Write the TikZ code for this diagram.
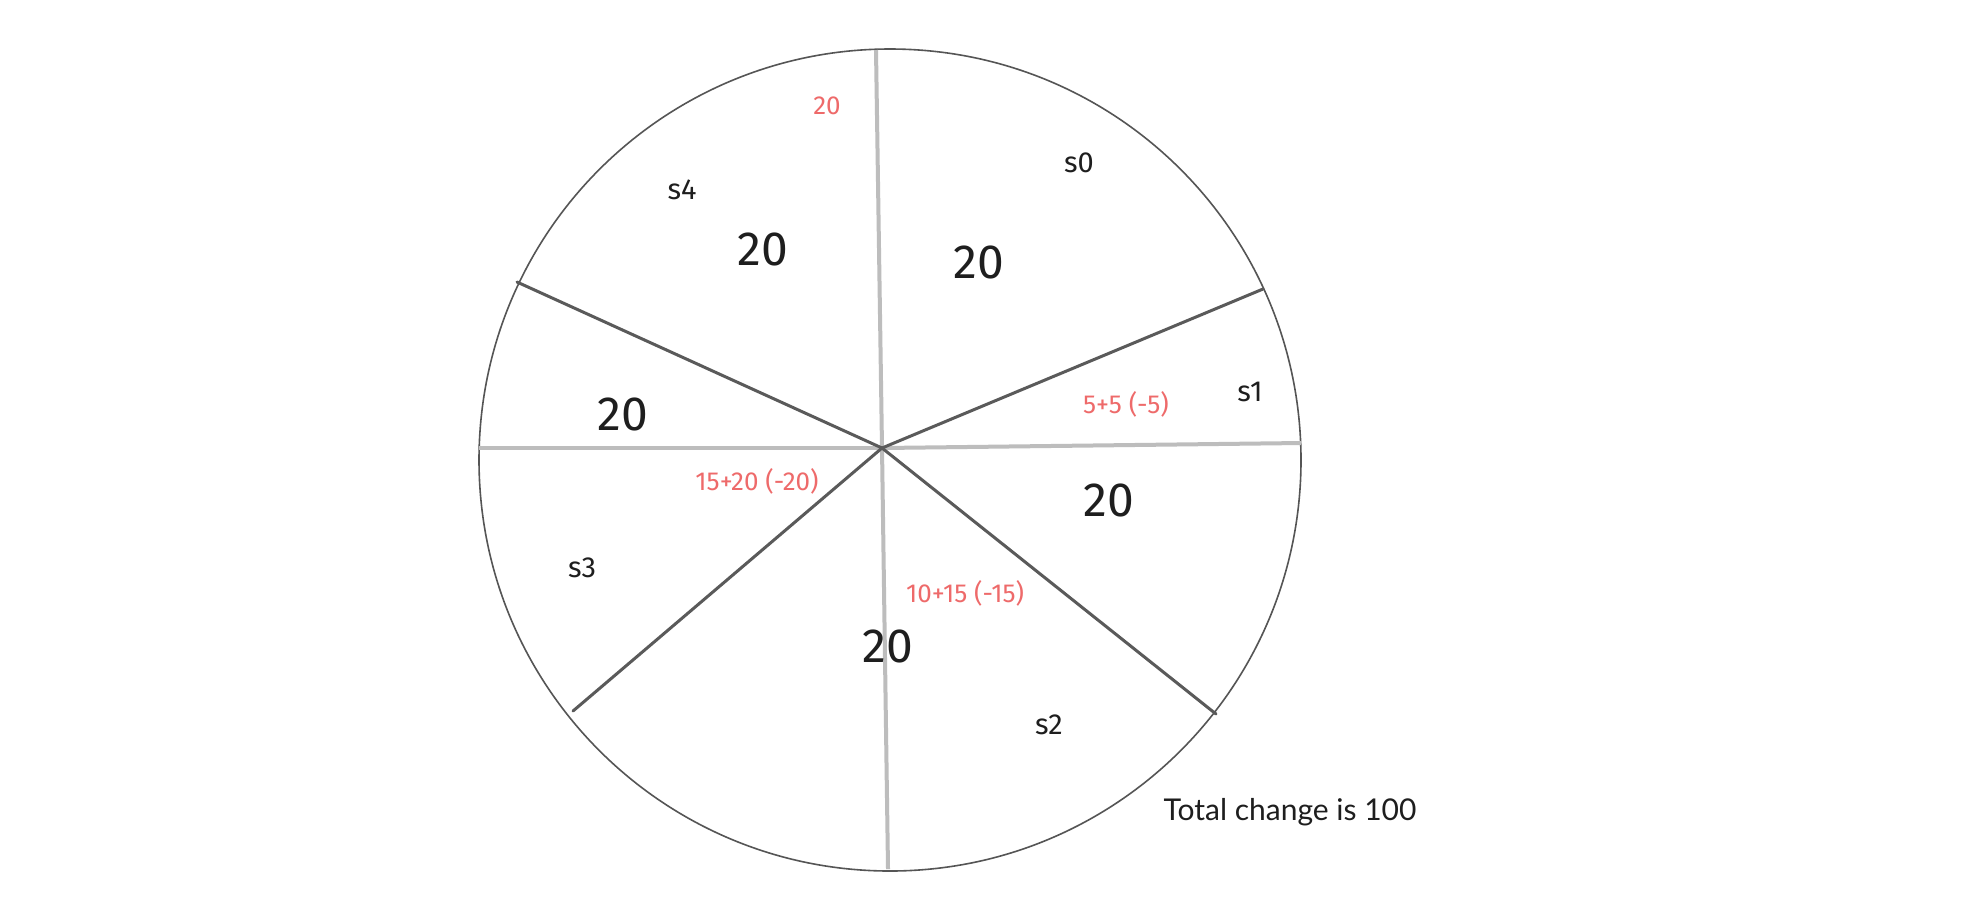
\documentclass[tikz,border=0pt]{standalone}
\usepackage{fontspec}
\setmainfont{Lato}
\newfontfamily\hand{Fira Sans}
\definecolor{rim}{HTML}{555555}
\definecolor{spoke}{HTML}{5A5A5A}
\definecolor{lightspoke}{HTML}{BDBDBD}
\definecolor{redtxt}{HTML}{EE6A6A}
\definecolor{txt}{HTML}{1E1E1E}
\tikzset{
  rimline/.style={draw=rim, line width=0.8pt},
  darkspoke/.style={draw=spoke, line width=1.5pt, line cap=round},
  greyspoke/.style={draw=lightspoke, line width=2pt},
  bignum/.style={font=\hand\fontsize{24}{27}\selectfont, text=txt, inner sep=0pt},
  sector/.style={font=\hand\fontsize{14.5}{16}\selectfont, text=txt, inner sep=0pt},
  redlbl/.style={font=\hand\fontsize{13}{15}\selectfont, text=redtxt, inner sep=0pt},
  note/.style={font=\fontsize{15}{18}\selectfont, text=txt, inner sep=0pt}
}
\begin{document}
\begin{tikzpicture}[x=0.5pt,y=-0.5pt]
\useasboundingbox (0,0) rectangle (1962,902);
\fill[white] (0,0) rectangle (1962,902);
% rim
\draw[rimline] (890,460) circle[radius=411];
% hub and rim points
\coordinate (c) at (882,448);
\coordinate (top) at (876,50);
\coordinate (bot) at (888,869);
\coordinate (lft) at (479,448);
\coordinate (rgt) at (1301,443);
\coordinate (ul) at (517,282);
\coordinate (ur) at (1263,289);
\coordinate (lr) at (1216,714);
\coordinate (ll) at (573,711);
% grey spokes
\draw[greyspoke] (c) -- (top);
\draw[greyspoke] (c) -- (bot);
\draw[greyspoke] (c) -- (lft);
\draw[greyspoke] (c) -- (rgt);
% dark spokes
\draw[darkspoke] (c) -- (ul);
\draw[darkspoke] (c) -- (ur);
\draw[darkspoke] (c) -- (lr);
\draw[darkspoke] (c) -- (ll);
% labels
\node[redlbl] (r20) at (827,106) {20};
\node[sector] (s4) at (682,190) {s4};
\node[bignum] (n4) at (763,249) {20};
\node[sector] (s0) at (1079,163) {s0};
\node[bignum] (n0) at (979,262) {20};
\node[bignum] (nl) at (623,414) {20};
\node[redlbl] (r1) at (1126,404) {5+5 (-5)};
\node[sector] (s1) at (1250,392) {s1};
\node[redlbl] (r3) at (757,481) {15+20 (-20)};
\node[bignum] (nr) at (1109,500) {20};
\node[sector] (s3) at (582,568) {s3};
\node[redlbl] (r2) at (965,593) {10+15 (-15)};
\node[bignum] (nb) at (888,646) {20};
\node[sector] (s2) at (1049,725) {s2};
\node[note] (total) at (1290,812) {Total change is 100};
\end{tikzpicture}
\end{document}
